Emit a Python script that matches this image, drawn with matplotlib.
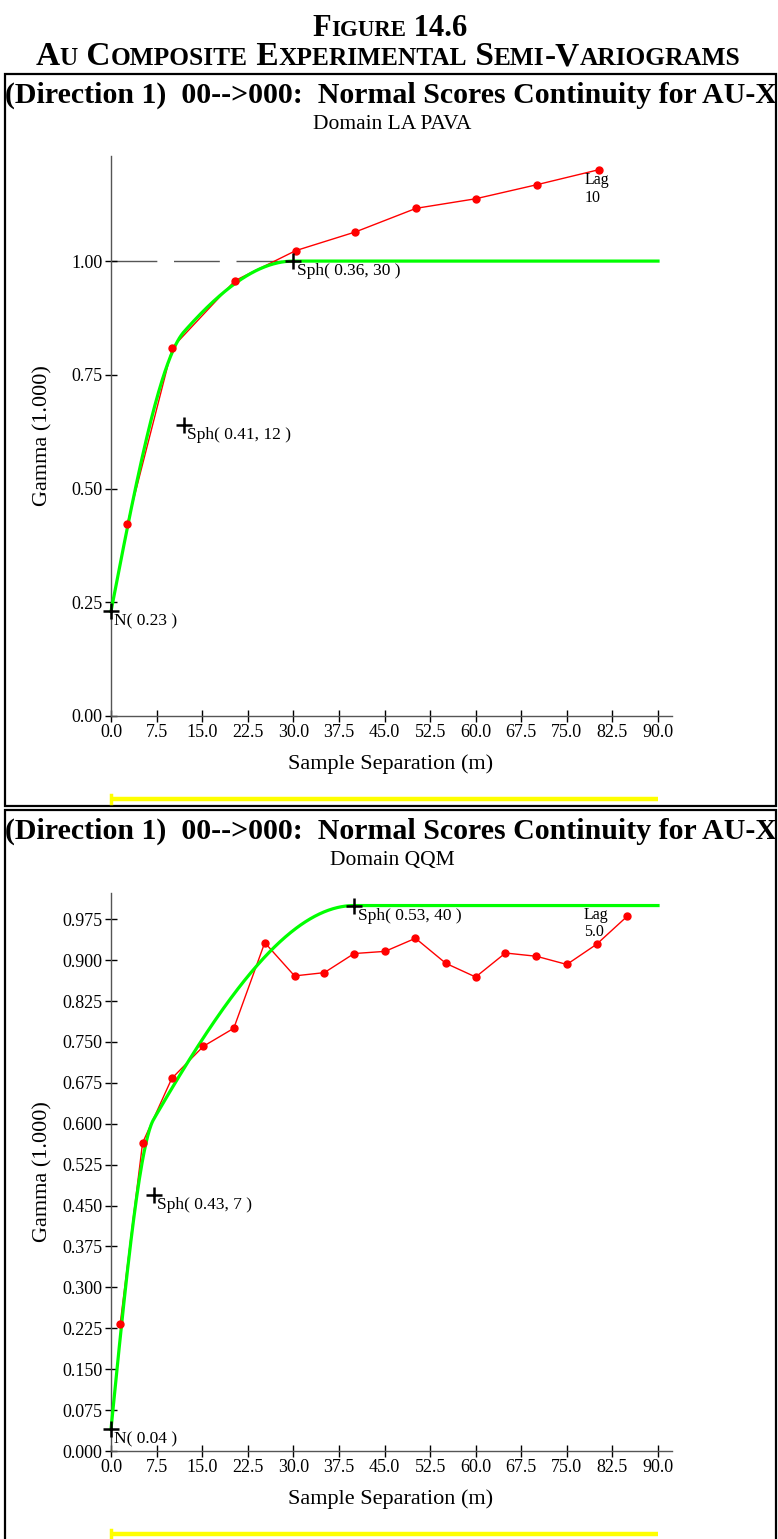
import numpy as np
import matplotlib
matplotlib.use("Agg")
import matplotlib.pyplot as plt
from matplotlib.patches import Rectangle
from matplotlib.lines import Line2D
from matplotlib.transforms import blended_transform_factory

plt.rcParams["font.family"] = ["Liberation Serif", "DejaVu Serif"]

W, H = 778, 1539
DPI = 100

# ---------------------------------------------------------------- data
fig_title = "FIGURE 14.6"
fig_subtitle = "AU COMPOSITE EXPERIMENTAL SEMI-VARIOGRAMS"
panel_heading = "(Direction 1)  00-->000:  Normal Scores Continuity for AU-X"
x_ticks = [0.0, 7.5, 15.0, 22.5, 30.0, 37.5, 45.0, 52.5, 60.0, 67.5, 75.0, 82.5, 90.0]

# Domain LA PAVA
lapava_domain = "Domain LA PAVA"
lapava_lag = [2.7, 10.1, 20.4, 30.4, 40.2, 50.2, 60.0, 70.1, 80.3]
lapava_gamma = [0.423, 0.810, 0.957, 1.023, 1.064, 1.116, 1.137, 1.168, 1.201]
lapava_nugget = 0.23
lapava_structs = [(0.41, 12), (0.36, 30)]
lapava_yticks = [0.00, 0.25, 0.50, 0.75, 1.00]
lapava_lagnote = "Lag\n10"

# Domain QQM
qqm_domain = "Domain QQM"
qqm_lag = [1.5, 5.2, 10.0, 15.2, 20.2, 25.3, 30.2, 35.1, 40.0, 45.1, 50.1,
           55.1, 60.0, 64.9, 70.0, 75.0, 79.9, 84.9]
qqm_gamma = [0.232, 0.565, 0.683, 0.742, 0.775, 0.932, 0.871, 0.877, 0.912,
             0.916, 0.940, 0.894, 0.869, 0.913, 0.907, 0.892, 0.929, 0.980]
qqm_nugget = 0.04
qqm_structs = [(0.43, 7), (0.53, 40)]
qqm_yticks = [0.000, 0.075, 0.150, 0.225, 0.300, 0.375, 0.450, 0.525, 0.600,
              0.675, 0.750, 0.825, 0.900, 0.975]
qqm_lagnote = "Lag\n5.0"


def spherical(h, sill, rng):
    r = np.minimum(np.asarray(h, dtype=float) / rng, 1.0)
    return sill * (1.5 * r - 0.5 * r ** 3)


def model(h, nugget, structs):
    g = np.full_like(np.asarray(h, dtype=float), nugget)
    for sill, rng in structs:
        g = g + spherical(h, sill, rng)
    return g


fig = plt.figure(figsize=(W / DPI, H / DPI), dpi=DPI)
renderer = fig.canvas.get_renderer()


def fx(px):
    return px / W


def fy(py):
    return 1 - py / H


def small_caps(text, xc, ybase, big, small):
    """Bold small-caps line: word initials, digits and punctuation at full size."""
    pieces = []
    prev = " "
    for ch in text:
        is_big = (not ch.isalpha()) or prev in " -"
        size = big if is_big else small
        if pieces and pieces[-1][1] == size:
            pieces[-1][0] += ch
        else:
            pieces.append([ch, size])
        prev = ch
    artists = []
    for s, size in pieces:
        t = fig.text(0, fy(ybase), s, fontsize=size, fontweight="bold",
                     ha="left", va="baseline")
        artists.append(t)
    widths = [a.get_window_extent(renderer).width for a in artists]
    x = xc - sum(widths) / 2
    for a, w in zip(artists, widths):
        a.set_x(fx(x))
        x += w


small_caps(fig_title, 390, 36, 22, 16.5)
small_caps(fig_subtitle, 388, 65, 24, 18.3)


def panel(box_top, box_bot, ax_top, ax_bot, domain, lags, gammas, nugget,
          structs, yticks, ylim_top, yfmt, lagnote, lagnote_xy, sill_dash):
    # frame around the panel
    fig.patches.append(Rectangle((fx(5), fy(box_bot)), fx(776 - 5),
                                 (box_bot - box_top) / H, transform=fig.transFigure,
                                 fill=False, edgecolor="black", lw=1.6))
    fig.text(fx(391), fy(box_top + 29), panel_heading, fontsize=21.5,
             fontweight="bold", ha="center", va="baseline")
    fig.text(fx(392), fy(box_top + 55), domain, fontsize=15.5,
             ha="center", va="baseline")

    left, right = 111, 672
    ax = fig.add_axes([fx(left), fy(ax_bot), (right - left) / W,
                       (ax_bot - ax_top) / H])
    ax.set_xlim(0, 90 * (right - left) / 547)
    ax.set_ylim(0, ylim_top)
    for side in ("top", "right"):
        ax.spines[side].set_visible(False)
    for side in ("left", "bottom"):
        ax.spines[side].set_color("#555555")
        ax.spines[side].set_linewidth(1.0)
    ax.set_xticks(x_ticks)
    ax.set_xticklabels([f"{v:.1f}" for v in x_ticks])
    ax.set_yticks(yticks)
    ax.set_yticklabels([yfmt.format(v) for v in yticks])
    ax.tick_params(direction="inout", length=8, width=1.0, colors="black",
                   labelsize=13, pad=2)

    if sill_dash:
        ax.plot([0, 30], [1.0, 1.0], color="#555555", lw=1.0,
                dashes=(33, 12), zorder=1)

    h = np.linspace(0, 90, 600)
    ax.plot(lags, gammas, color="red", lw=1.0, zorder=2, clip_on=False)
    ax.plot(h, model(h, nugget, structs), color="#00ff00", lw=2.3, zorder=3,
            clip_on=False)
    ax.plot(lags, gammas, "o", color="red", ms=5, zorder=4, clip_on=False)

    # structure markers with their labels
    marks = [(0.0, nugget, f"N( {nugget:.2f} )")]
    acc = nugget
    for sill, rng in structs:
        acc += sill
        marks.append((rng, acc, f"Sph( {sill:.2f}, {rng} )"))
    for xm, ym, lab in marks:
        ax.plot(xm, ym, "+", color="black", ms=11, mew=1.8, zorder=5,
                clip_on=False)
        ax.annotate(lab, (xm, ym), xytext=(2.5, -1.5), textcoords="offset points",
                    ha="left", va="top", fontsize=12.5, zorder=6)

    ax.text(lagnote_xy[0], lagnote_xy[1], lagnote, fontsize=11.5, ha="left",
            va="top", linespacing=1.1)

    fig.text(fx(391), fy(ax_bot + 48), "Sample Separation (m)", fontsize=16,
             ha="center", va="center")
    fig.text(fx(43), fy((ax_top + ax_bot) / 2), "Gamma (1.000)",
             fontsize=16, rotation=90, ha="center", va="center")

    # yellow lag-tolerance bar under the axes
    yb = fy(ax_bot + 83)
    bar_tr = blended_transform_factory(ax.transData, fig.transFigure)
    fig.lines.append(Line2D([0, 90], [yb, yb], transform=bar_tr,
                            color="#ffff00", lw=3.2, solid_capstyle="butt"))
    fig.lines.append(Line2D([0, 0], [yb - 4 / H, yb + 4 / H], transform=bar_tr,
                            color="#ffff00", lw=2.5))
    return ax


panel(74, 806, 156, 716, lapava_domain, lapava_lag, lapava_gamma, lapava_nugget,
      lapava_structs, lapava_yticks, 1.231, "{:.2f}", lapava_lagnote,
      (78.0, 1.195), True)
panel(810, 1545, 893, 1451, qqm_domain, qqm_lag, qqm_gamma, qqm_nugget,
      qqm_structs, qqm_yticks, 1.023, "{:.3f}", qqm_lagnote,
      (77.8, 0.997), False)

fig.savefig("out.png", dpi=DPI)
